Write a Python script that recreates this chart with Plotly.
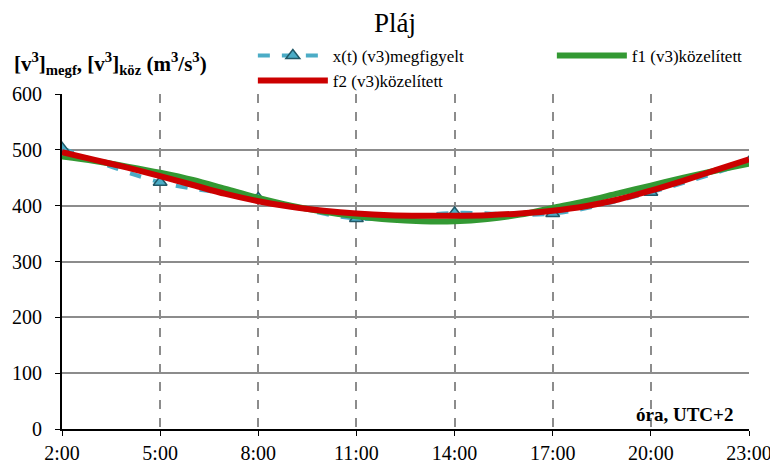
import plotly.graph_objects as go

hours_obs = [2, 5, 8, 11, 14, 17, 20, 23]
x_obs = [503, 442, 413, 377, 387, 386, 424, 478]

hours_fit = list(range(2, 24))
f1 = [488, 480, 470, 459, 446, 430, 414, 400, 389, 381, 375, 372, 372, 376, 384, 396,
      408, 422, 436, 450, 463, 475]
f2 = [496, 482, 468, 453, 437, 421, 408, 398, 391, 386, 383, 382, 382, 383, 386, 391,
      399, 411, 427, 445, 464, 483]

tick_vals = [2, 5, 8, 11, 14, 17, 20, 23]
tick_text = ["2:00", "5:00", "8:00", "11:00", "14:00", "17:00", "20:00", "23:00"]

serif = "Liberation Serif"

fig = go.Figure()
fig.add_trace(go.Scatter(
    x=hours_obs, y=x_obs, mode="lines+markers", name="x(t) (v3)megfigyelt",
    line=dict(color="#4bacc6", width=4, dash="dash", shape="spline"),
    marker=dict(symbol="triangle-up", size=12, color="#4bacc6",
                line=dict(color="#215968", width=1.5)),
))
fig.add_trace(go.Scatter(
    x=hours_fit, y=f1, mode="lines", name="f1 (v3)közelített",
    line=dict(color="#339933", width=6, shape="spline"),
))
fig.add_trace(go.Scatter(
    x=hours_fit, y=f2, mode="lines", name="f2 (v3)közelített",
    line=dict(color="#cc0000", width=6, shape="spline"),
))

fig.update_layout(
    width=770, height=461,
    margin=dict(l=54, r=29, t=86, b=40, autoexpand=False),
    paper_bgcolor="white", plot_bgcolor="white",
    font=dict(family=serif, color="black", size=20),
    title=dict(text="Pláj", x=0.5026, xanchor="center", y=0.99, yanchor="top",
               font=dict(size=27, family=serif)),
    showlegend=True,
    legend=dict(orientation="h", xref="container", yref="container",
                x=0.318, xanchor="left", y=0.935, yanchor="top",
                font=dict(size=17, family=serif), itemwidth=70,
                entrywidth=214, tracegroupgap=0, bgcolor="rgba(0,0,0,0)"),
    xaxis=dict(range=[2, 23], tickvals=tick_vals, ticktext=tick_text,
               showgrid=True, gridcolor="#8c8c8c", griddash="dash", gridwidth=2,
               showline=True, linecolor="black", linewidth=2,
               ticks="outside", ticklen=5, tickcolor="black",
               tickfont=dict(size=20, family=serif), zeroline=False),
    yaxis=dict(range=[0, 600], dtick=100, showgrid=True, gridcolor="#8c8c8c",
               gridwidth=2, showline=True, linecolor="black", linewidth=2,
               ticks="outside", ticklen=5, tickcolor="black", ticklabelstandoff=9,
               tickfont=dict(size=20, family=serif), zeroline=False),
    annotations=[
        dict(text="<b>[v<sup>3</sup>]<sub>megf</sub>, [v<sup>3</sup>]<sub>köz</sub> (m<sup>3</sup>/s<sup>3</sup>)</b>",
             xref="paper", yref="paper", x=-0.0728, y=1.042, xanchor="left", yanchor="bottom",
             showarrow=False, font=dict(size=21, family=serif)),
        dict(text="<b>óra, UTC+2</b>", xref="paper", yref="paper", x=0.98, y=0.006,
             xanchor="right", yanchor="bottom", showarrow=False,
             font=dict(size=19, family=serif)),
    ],
)

fig.write_html("out.html")
